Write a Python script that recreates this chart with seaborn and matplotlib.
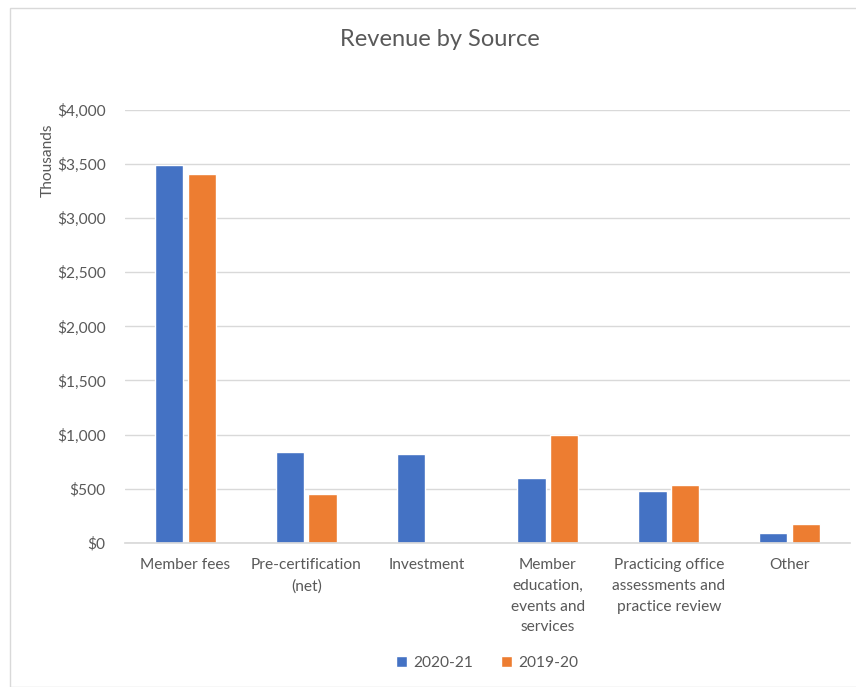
import numpy as np
import pandas as pd
import matplotlib
matplotlib.use('Agg')
import matplotlib.pyplot as plt
import seaborn as sns
from matplotlib.patches import Rectangle
from matplotlib.ticker import FuncFormatter

# データ
categories = ['Member fees', 'Pre-certification\n(net)', 'Investment',
              'Member\neducation,\nevents and\nservices',
              'Practicing office\nassessments and\npractice review', 'Other']
rev_2021 = [3490, 836, 824, 596, 478, 86]
rev_1920 = [3410, 454, 0, 994, 531, 176]
series = ['2020-21', '2019-20']

df = pd.DataFrame({
    'source': categories * 2,
    'year': [series[0]] * len(categories) + [series[1]] * len(categories),
    'value': rev_2021 + rev_1920,
})

sns.set_theme(style='white')
plt.rcParams['font.family'] = ['Lato', 'DejaVu Sans']
grey = '#595959'

fig = plt.figure(figsize=(8.56, 6.87), dpi=100)
ax = fig.add_axes([125 / 856, 1 - 542.7 / 687, 725 / 856, 432.7 / 687])

sns.barplot(data=df, x='source', y='value', hue='year', order=categories,
            hue_order=series, palette=['#4472C4', '#ED7D31'], saturation=1,
            width=0.54, gap=0.13, ax=ax, legend=True)

ax.set_ylim(0, 4000)
ax.set_xlim(-0.5, 5.5)
ax.set_yticks(np.arange(0, 4001, 500))
ax.yaxis.set_major_formatter(FuncFormatter(lambda v, p: f'${v:,.0f}'))
ax.grid(axis='y', color='#d9d9d9', linewidth=1)
ax.set_axisbelow(True)
for s in ['top', 'right', 'left']:
    ax.spines[s].set_visible(False)
ax.spines['bottom'].set_color('#d9d9d9')
ax.tick_params(axis='both', length=0, colors=grey, labelsize=11.2)
ax.tick_params(axis='y', pad=14)
ax.tick_params(axis='x', pad=11)
for lbl in ax.get_xticklabels():
    lbl.set_linespacing(1.62)
ax.set_xlabel('')
ax.set_ylabel('Thousands', color=grey, fontsize=11.2)
ax.yaxis.set_label_coords(-0.097, 0.885)

fig.text(440 / 856, 1 - 40 / 687, 'Revenue by Source', color=grey, fontsize=17,
         ha='center', va='center')

ax.legend(loc='center', bbox_to_anchor=(0.5, (1 - 663 / 687 - ax.get_position().y0) / ax.get_position().height),
          ncol=2, frameon=False, fontsize=11.2, labelcolor=grey,
          handlelength=0.7, handleheight=0.7, handletextpad=0.4, columnspacing=1.8)

# 枠線
fig.patches.append(Rectangle((10 / 856, 0), 1, 1 - 8 / 687, transform=fig.transFigure,
                             fill=False, edgecolor='#d9d9d9', linewidth=1))

fig.savefig('out.png', dpi=100)
